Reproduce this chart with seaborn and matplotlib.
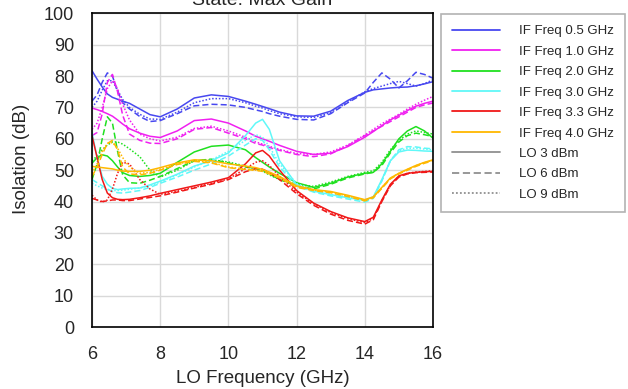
import numpy as np
import pandas as pd
import matplotlib
matplotlib.use("Agg")
import matplotlib.pyplot as plt
import seaborn as sns
from matplotlib.lines import Line2D

# LO frequency (GHz)
lo_freq = [6.0, 6.15, 6.3, 6.45, 6.6, 6.75, 6.9, 7.1, 7.4, 7.7, 8.0, 8.5, 9.0, 9.5, 10.0,
           10.5, 10.8, 11.0, 11.2, 11.5, 12.0, 12.5, 13.0, 13.5, 14.0, 14.25, 14.5, 14.75,
           15.0, 15.25, 15.5, 15.75, 16.0]

if_labels = ["IF Freq 0.5 GHz", "IF Freq 1.0 GHz", "IF Freq 2.0 GHz",
             "IF Freq 3.0 GHz", "IF Freq 3.3 GHz", "IF Freq 4.0 GHz"]
lo_labels = ["LO 3 dBm", "LO 6 dBm", "LO 9 dBm"]

# Isolation (dB)
if05_lo3 = [81.7, 79, 76.5, 74.3, 73.2, 72.6, 72, 71.3, 69.5, 67.7, 67, 69.5, 73, 74, 73.5, 72, 71, 70.3, 69.6, 68.5, 67.3, 67.2, 68.8, 72.2, 74.8, 75.6, 75.9, 76.2, 76.4, 76.5, 76.9, 77.5, 78.2]
if05_lo6 = [72, 74, 78, 81, 80, 75, 71.5, 69.5, 67.1, 65.5, 65.8, 68, 70.5, 71, 70.8, 70, 69.2, 68.7, 68, 67.2, 66.2, 66, 68, 71.5, 74.6, 78, 81, 79, 76.2, 78.5, 81.2, 80.5, 79.3]
if05_lo9 = [70, 72, 75.5, 78.5, 78.5, 75.5, 72.5, 70, 67.8, 66.3, 66.2, 68.5, 71.5, 72.8, 72.8, 71.5, 70.4, 69.8, 69, 68, 67, 66.8, 68.3, 71.7, 75, 76, 76.8, 77.6, 78.3, 77.6, 76.8, 77.6, 78.8]

if10_lo3 = [69.8, 69.3, 68.7, 68, 67.2, 66, 64.7, 63.2, 61.8, 60.8, 60.4, 62.5, 65.8, 66.3, 65, 62.5, 60.8, 60, 59.2, 57.9, 56, 55, 55.4, 57.5, 60.5, 62.3, 64.2, 66, 67.5, 69, 70.4, 71.3, 72]
if10_lo6 = [61, 62, 68, 78, 80.5, 75, 67.5, 61.5, 59.5, 58.6, 58.5, 60, 63, 63.6, 61.8, 60, 58.5, 58, 57.2, 56.3, 55, 54.3, 55.2, 57.8, 61, 62.5, 64, 65.5, 67, 68.5, 70, 70.8, 71.4]
if10_lo9 = [63, 65, 70, 76, 78.5, 76, 71, 66, 61.5, 60, 59.3, 60.5, 63.3, 64, 62.5, 60.5, 59, 58.3, 57.6, 56.6, 55.3, 55, 55.8, 58, 61.2, 63, 64.8, 66.3, 67.8, 69.5, 71, 72.3, 73.5]

if20_lo3 = [52.2, 54, 54.9, 54.5, 53, 51, 49.2, 48.3, 48, 48.3, 49, 52.5, 55.8, 57.6, 58, 56.5, 54, 52.5, 51, 49, 46, 44.5, 45.8, 47.8, 49, 49.3, 52, 56, 60, 62.5, 63.9, 62.5, 60.2]
if20_lo6 = [47, 52, 60, 67, 65, 56, 48.5, 46, 45.8, 46.8, 48, 50.5, 53, 53.5, 52.3, 51, 50.5, 50, 48.8, 47, 45, 44, 45.5, 47.5, 48.8, 49.3, 51.5, 55.5, 59, 61, 61.8, 61.3, 60.7]
if20_lo9 = [53, 54.5, 56.5, 58, 59, 59, 58.3, 56.8, 54.3, 50, 47.8, 50, 53, 53.3, 52.6, 51.3, 50.3, 49.7, 48.5, 47, 45.5, 44.8, 46.2, 48, 49.3, 49.8, 52.5, 56.5, 59.5, 61.5, 62.5, 62, 61.5]

if30_lo3 = [62, 54, 48, 45.5, 44.2, 43.8, 44, 44.2, 44.3, 45.3, 46.5, 48.7, 51.3, 53, 55.5, 61, 65, 66.2, 63, 53, 45.3, 43.3, 42.2, 41.2, 40.4, 41.5, 47, 53, 55.8, 56.4, 56.3, 56.1, 56]
if30_lo6 = [47, 46, 45, 44, 43.2, 42.8, 42.7, 43, 43.5, 44.5, 45.8, 47.8, 50, 52, 54.5, 58, 60, 59.5, 56.5, 51, 45, 43, 41.8, 40.8, 39.8, 41, 46.5, 53, 56.5, 57.5, 57.4, 57, 56.8]
if30_lo9 = [45.8, 45, 44.3, 43.8, 43.5, 43.5, 43.6, 43.9, 44.3, 45, 46.2, 48.5, 51, 53.3, 56, 59.5, 61.3, 60.5, 57.5, 52, 45.8, 43.5, 42.3, 41.3, 40.3, 41.3, 46.8, 53, 56.2, 57, 57, 56.7, 56.5]

if33_lo3 = [61, 54, 47, 42.7, 41.2, 40.7, 40.6, 40.7, 41.2, 41.8, 42.6, 43.8, 45, 46.2, 47.6, 52, 55.5, 56.3, 54.5, 50, 43.5, 39.5, 36.8, 34.8, 33.6, 35, 40.5, 45.5, 48.2, 49, 49.3, 49.5, 49.6]
if33_lo6 = [41, 40.5, 40, 40.2, 40.5, 40.5, 40.3, 40.3, 40.8, 41.3, 41.8, 43, 44.3, 45.5, 47, 49.5, 50.5, 50.3, 49.3, 47, 42.5, 38.8, 36, 34, 32.8, 34.2, 40, 45, 47.8, 48.8, 49.2, 49.3, 49.4]
if33_lo9 = [42, 40.5, 39.8, 40.5, 44, 49, 52.5, 52, 47, 44, 42.3, 43.3, 44.5, 45.8, 47.2, 50.5, 52.5, 53, 51.5, 48, 43, 39.3, 36.5, 34.5, 33.3, 34.6, 40.2, 45.2, 48, 49, 49.4, 49.6, 49.8]

if40_lo3 = [51.2, 51, 50.8, 50.6, 50.4, 50, 49.7, 49.6, 49.6, 50, 50.8, 52.3, 53.3, 53, 52, 51.3, 50.8, 50.2, 49.4, 48, 45, 43.8, 43.2, 42, 40.6, 41.5, 44.5, 47.5, 49, 50.3, 51.5, 52.5, 53.3]
if40_lo6 = [48, 51, 55, 58.5, 59.5, 56.5, 51, 48.8, 48.5, 49, 50, 51.8, 52.8, 52.3, 50.8, 50.2, 50, 49.6, 48.8, 47.5, 44.5, 43.5, 42.8, 41.6, 40.2, 41.2, 44.2, 47.2, 48.8, 50, 51.2, 52.2, 53]
if40_lo9 = [49, 52, 56, 58.5, 58.8, 57, 54, 51, 49, 49.3, 50.3, 52, 53, 52.5, 51, 50.3, 50, 49.7, 49, 47.6, 44.8, 43.7, 43, 41.8, 40.4, 41.4, 44.4, 47.4, 49, 50.2, 51.4, 52.4, 53.2]

series = {
    (if_labels[0], lo_labels[0]): if05_lo3, (if_labels[0], lo_labels[1]): if05_lo6, (if_labels[0], lo_labels[2]): if05_lo9,
    (if_labels[1], lo_labels[0]): if10_lo3, (if_labels[1], lo_labels[1]): if10_lo6, (if_labels[1], lo_labels[2]): if10_lo9,
    (if_labels[2], lo_labels[0]): if20_lo3, (if_labels[2], lo_labels[1]): if20_lo6, (if_labels[2], lo_labels[2]): if20_lo9,
    (if_labels[3], lo_labels[0]): if30_lo3, (if_labels[3], lo_labels[1]): if30_lo6, (if_labels[3], lo_labels[2]): if30_lo9,
    (if_labels[4], lo_labels[0]): if33_lo3, (if_labels[4], lo_labels[1]): if33_lo6, (if_labels[4], lo_labels[2]): if33_lo9,
    (if_labels[5], lo_labels[0]): if40_lo3, (if_labels[5], lo_labels[1]): if40_lo6, (if_labels[5], lo_labels[2]): if40_lo9,
}

rows = []
for (ifl, lol), vals in series.items():
    for f, v in zip(lo_freq, vals):
        rows.append({"LO Frequency (GHz)": f, "Isolation (dB)": v, "IF": ifl, "LO": lol})
df = pd.DataFrame(rows)

colors = ["#4848f0", "#f020f0", "#20e020", "#60f8f8", "#f01818", "#ffb800"]
palette = dict(zip(if_labels, colors))
dashes = {lo_labels[0]: "", lo_labels[1]: (4, 2), lo_labels[2]: (1, 1.2)}

sns.set_style("white")
plt.rcParams["font.family"] = ["Liberation Sans", "DejaVu Sans"]

fig = plt.figure(figsize=(6.28, 3.89), dpi=100)
ax = fig.add_axes([92 / 628, 1 - 327 / 389, (433 - 92) / 628, (327 - 13.3) / 389])

sns.lineplot(data=df, x="LO Frequency (GHz)", y="Isolation (dB)", hue="IF", style="LO",
             palette=palette, dashes=dashes, hue_order=if_labels, style_order=lo_labels,
             linewidth=1.1, ax=ax, legend=False, estimator=None, sort=False)

ax.set_xlim(6, 16)
ax.set_ylim(0, 100)
ax.set_xticks([6, 8, 10, 12, 14, 16])
ax.set_yticks(range(0, 101, 10))
ax.grid(True, color="#d9d9d9", linewidth=1)
ax.set_axisbelow(True)
for s in ax.spines.values():
    s.set_color("black")
    s.set_linewidth(1.2)
ax.tick_params(axis="both", labelsize=13, length=0)
ax.tick_params(axis="y", pad=13)
ax.tick_params(axis="x", pad=14)
ax.set_xlabel("LO Frequency (GHz)", fontsize=13.5, labelpad=5)
ax.set_ylabel("Isolation (dB)", fontsize=13.5)
ax.yaxis.set_label_coords(-0.183, 0.536)
ax.set_title("State: Max Gain", fontsize=14, pad=6)

handles = [Line2D([], [], color=c, lw=1.3) for c in colors]
handles += [Line2D([], [], color="#909090", lw=1.3, linestyle="-"),
            Line2D([], [], color="#909090", lw=1.3, linestyle=(0, (4, 2))),
            Line2D([], [], color="#909090", lw=1.3, linestyle=(0, (1, 1.2)))]
labels = if_labels + lo_labels
leg = fig.legend(handles, labels, loc="upper left", bbox_to_anchor=(441 / 628, 1 - 14 / 389),
                 fontsize=9.5, frameon=True, fancybox=False, edgecolor="#a0a0a0",
                 handlelength=3.6, handletextpad=1.45, labelspacing=0.62,
                 borderpad=0.85, borderaxespad=0)
leg.get_frame().set_linewidth(1.2)

fig.savefig("out.png", dpi=100)
